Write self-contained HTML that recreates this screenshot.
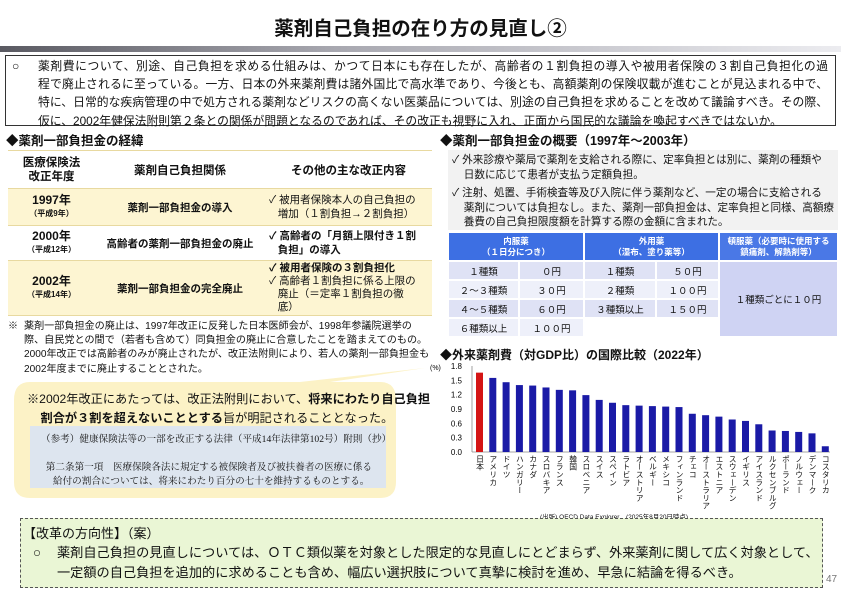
<!DOCTYPE html>
<html><head><meta charset="utf-8">
<style>
*{margin:0;padding:0;box-sizing:border-box}
body{width:841px;height:595px;background:#fff;position:relative;overflow:hidden;font-family:"Liberation Sans","Noto Sans CJK JP",sans-serif;color:#111}
.a{position:absolute;white-space:nowrap}
.b{font-weight:bold}
table{border-collapse:collapse}
.lt td{text-align:center;vertical-align:middle;font-weight:bold;font-size:10.5px}
.lt tr{border-bottom:1.5px solid #e8d9a0}
.y{background:#fdf5d2}
.rt td{text-align:center;font-size:9.5px;border:2px solid #fff}
.v{position:absolute;writing-mode:vertical-rl;font-size:7.8px;line-height:9px;top:455px;white-space:nowrap}
.j{width:790px;white-space:nowrap;text-align:justify;text-align-last:justify;height:18.2px;overflow:visible}
</style></head><body>
<div class="a b" style="left:0;width:841px;text-align:center;top:12px;font-size:19.5px">薬剤自己負担の在り方の見直し②</div>
<div class="a" style="left:0;top:46px;width:841px;height:6px;background:linear-gradient(90deg,#5a5a62,#a8a8b0 40%,#ececf0)"></div>
<div class="a" style="left:5px;top:55px;width:831px;height:71px;border:1px solid #333"></div>
<div class="a" style="left:12px;top:57px;font-size:12px;line-height:18.2px">○</div>
<div class="a" style="left:38px;top:57px;font-size:11.8px;line-height:18.2px">
<div class="j">薬剤費について、別途、自己負担を求める仕組みは、かつて日本にも存在したが、高齢者の１割負担の導入や被用者保険の３割自己負担化の過</div>
<div class="j">程で廃止されるに至っている。一方、日本の外来薬剤費は諸外国比で高水準であり、今後とも、高額薬剤の保険収載が進むことが見込まれる中で、</div>
<div class="j">特に、日常的な疾病管理の中で処方される薬剤などリスクの高くない医薬品については、別途の自己負担を求めることを改めて議論すべき。その際、</div>
<div style="height:18.2px">仮に、2002年健保法附則第２条との関係が問題となるのであれば、その改正も視野に入れ、正面から国民的な議論を喚起すべきではないか。</div>
</div>

<div class="a b" style="left:6px;top:130px;font-size:12.5px">◆薬剤一部負担金の経緯</div>
<div class="a b" style="left:440px;top:130px;font-size:12.5px">◆薬剤一部負担金の概要（1997年～2003年）</div>

<table class="lt a" style="left:8px;top:150px;width:424px">
<tr style="height:38px;border-top:1.5px solid #e8d9a0"><td style="width:87px;font-size:11.5px;line-height:14px">医療保険法<br>改正年度</td><td style="width:170px;font-size:11.5px">薬剤自己負担関係</td><td style="font-size:11.5px">その他の主な改正内容</td></tr>
<tr class="y" style="height:37px"><td style="font-size:12px;line-height:12px">1997年<br><span style="font-size:8px">（平成9年）</span></td><td>薬剤一部負担金の導入</td><td style="text-align:left;font-weight:normal;line-height:14px;padding-left:4px">✓ 被用者保険本人の自己負担の<br>&nbsp;&nbsp;&nbsp;増加（１割負担→２割負担）</td></tr>
<tr style="height:35px"><td style="font-size:12px;line-height:12px">2000年<br><span style="font-size:8px">（平成12年）</span></td><td>高齢者の薬剤一部負担金の廃止</td><td style="text-align:left;line-height:14px;padding-left:4px">✓ 高齢者の「月額上限付き１割<br>&nbsp;&nbsp;&nbsp;負担」の導入</td></tr>
<tr class="y" style="height:55px"><td style="font-size:12px;line-height:12px">2002年<br><span style="font-size:8px">（平成14年）</span></td><td>薬剤一部負担金の完全廃止</td><td style="text-align:left;font-weight:normal;line-height:12.8px;padding-left:4px"><b>✓ 被用者保険の３割負担化</b><br>✓ 高齢者１割負担に係る上限の<br>&nbsp;&nbsp;&nbsp;廃止（＝定率１割負担の徹<br>&nbsp;&nbsp;&nbsp;底）</td></tr>
</table>
<div class="a" style="left:8px;top:320px;font-size:10px;line-height:14.2px">※</div>
<div class="a" style="left:24px;top:320px;font-size:10.1px;line-height:14.2px">薬剤一部負担金の廃止は、1997年改正に反発した日本医師会が、1998年参議院選挙の<br>際、自民党との間で（若者も含めて）同負担金の廃止に合意したことを踏まえてのもの。<br>2000年改正では高齢者のみが廃止されたが、改正法附則により、若人の薬剤一部負担金も<br>2002年度までに廃止することとされた。</div>

<svg class="a" style="left:0;top:360px" width="440" height="145"><path d="M30 22 Q14 22 14 40 L14 122 Q14 138 30 138 L380 138 Q396 138 396 122 L396 40 Q396 22 380 22 L330 22 L425 8 L300 22 Z" fill="#fcf2c6"/></svg>
<div class="a" style="left:27px;top:390px;font-size:12.2px;line-height:19px">※2002年改正にあたっては、改正法附則において、<b>将来にわたり自己負担</b><br>&nbsp;&nbsp;&nbsp;&nbsp;<b>割合が３割を超えないこととする</b>旨が明記されることとなった。</div>
<div class="a" style="left:30px;top:426px;width:356px;height:62px;background:#dde5ef"></div>
<div class="a" style="left:41px;top:433px;font-family:'Liberation Serif','Noto Serif CJK SC',serif;font-size:9.6px;line-height:14px">（参考）健康保険法等の一部を改正する法律（平成14年法律第102号）附則（抄）<br><span style="display:inline-block;height:6px"></span><br>&nbsp;&nbsp;第二条第一項　医療保険各法に規定する被保険者及び被扶養者の医療に係る<br>&nbsp;&nbsp;&nbsp;&nbsp;&nbsp;給付の割合については、将来にわたり百分の七十を維持するものとする。</div>

<div class="a" style="left:448px;top:150px;width:390px;height:80px;background:#f2f2f2"></div>
<div class="a" style="left:452px;top:153px;font-size:10.6px;line-height:14.5px">✓ 外来診療や薬局で薬剤を支給される際に、定率負担とは別に、薬剤の種類や<br>&nbsp;&nbsp;&nbsp;&nbsp;日数に応じて患者が支払う定額負担。</div>
<div class="a" style="left:452px;top:186px;font-size:10.6px;line-height:14.5px">✓ 注射、処置、手術検査等及び入院に伴う薬剤など、一定の場合に支給される<br>&nbsp;&nbsp;&nbsp;&nbsp;薬剤については負担なし。また、薬剤一部負担金は、定率負担と同様、高額療<br>&nbsp;&nbsp;&nbsp;&nbsp;養費の自己負担限度額を計算する際の金額に含まれた。</div>
<table class="rt a" style="left:447px;top:231px;width:392px">
<tr style="height:29px;background:#3d6fe3;color:#fff;font-weight:bold;line-height:11px"><td colspan="2" style="font-size:8.5px">内服薬<br>（１日分につき）</td><td colspan="2" style="font-size:8.5px">外用薬<br>（湿布、塗り薬等）</td><td style="font-size:8.5px;background:#4a78e6">頓服薬（必要時に使用する<br>鎮痛剤、解熱剤等）</td></tr>
<tr style="height:19px;background:#dfe2f5"><td style="width:71px">１種類</td><td style="width:65px">０円</td><td style="width:72px">１種類</td><td style="width:63px">５０円</td><td rowspan="4" style="background:#cfd3f3">１種類ごとに１０円</td></tr>
<tr style="height:19px;background:#eef0fa"><td>２～３種類</td><td>３０円</td><td>２種類</td><td>１００円</td></tr>
<tr style="height:19px;background:#dfe2f5"><td>４～５種類</td><td>６０円</td><td>３種類以上</td><td>１５０円</td></tr>
<tr style="height:19px;background:#eef0fa"><td>６種類以上</td><td>１００円</td><td style="background:#fff"></td><td style="background:#fff"></td></tr>
</table>

<div class="a b" style="left:440px;top:346px;font-size:12px">◆外来薬剤費（対GDP比）の国際比較（2022年）</div>
<svg class="a" style="left:420px;top:360px" width="421" height="100" font-family="Liberation Sans,sans-serif" font-size="8">
<text x="10" y="10" font-size="7">(%)</text>
<g text-anchor="end">
<text x="42" y="9">1.8</text><text x="42" y="23.3">1.5</text><text x="42" y="37.6">1.2</text><text x="42" y="52">0.9</text><text x="42" y="66.3">0.6</text><text x="42" y="80.6">0.3</text><text x="42" y="95">0.0</text>
</g>
<line x1="52" y1="6" x2="52" y2="92" stroke="#888" stroke-width="0.8"/>
<line x1="52" y1="92" x2="410" y2="92" stroke="#888" stroke-width="0.8"/>
<g id="bars"></g>
</svg>
<div id="lbl"></div>
<div class="a" style="left:540px;top:511px;font-size:6.5px">(出所) OECD Data Explorer　(2025年8月20日時点)</div>

<div class="a" style="left:20px;top:518px;width:803px;height:70px;background:#eaf6d5;border:1px dashed #555"></div>
<div class="a" style="left:23px;top:523px;font-size:13px">【改革の方向性】（案）</div>
<div class="a" style="left:33px;top:543px;font-size:13.2px;line-height:20px">○</div>
<div class="a" style="left:57px;top:543px;font-size:13.2px;line-height:20px">薬剤自己負担の見直しについては、ＯＴＣ類似薬を対象とした限定的な見直しにとどまらず、外来薬剤に関して広く対象として、<br>一定額の自己負担を追加的に求めることも含め、幅広い選択肢について真摯に検討を進め、早急に結論を得るべき。</div>
<div class="a" style="left:826px;top:574px;font-size:10px;color:#777">47</div>
<script>
var d=[["日本",1.66],["アメリカ",1.55],["ドイツ",1.46],["ハンガリー",1.40],["カナダ",1.39],["スロバキア",1.35],["フランス",1.30],["韓国",1.29],["スロベニア",1.19],["スイス",1.09],["スペイン",1.03],["ラトビア",0.98],["オーストリア",0.97],["ベルギー",0.96],["メキシコ",0.95],["フィンランド",0.94],["チェコ",0.80],["オーストラリア",0.77],["エストニア",0.74],["スウェーデン",0.68],["イギリス",0.65],["アイスランド",0.58],["ルクセンブルグ",0.45],["ポーランド",0.44],["ノルウェー",0.42],["デンマーク",0.39],["コスタリカ",0.12]];
var g=document.getElementById('bars'),s='',l='';
d.forEach(function(e,i){var x=56+i*13.3,h=e[1]*47.8;s+='<rect x="'+x+'" y="'+(92-h)+'" width="7" height="'+h+'" fill="'+(i?'#1a1aa6':'#d41414')+'"/>';
l+='<div class="v" style="left:'+(420+x-0.5)+'px">'+e[0]+'</div>';});
g.innerHTML=s;document.getElementById('lbl').innerHTML=l;
</script>
</body></html>
